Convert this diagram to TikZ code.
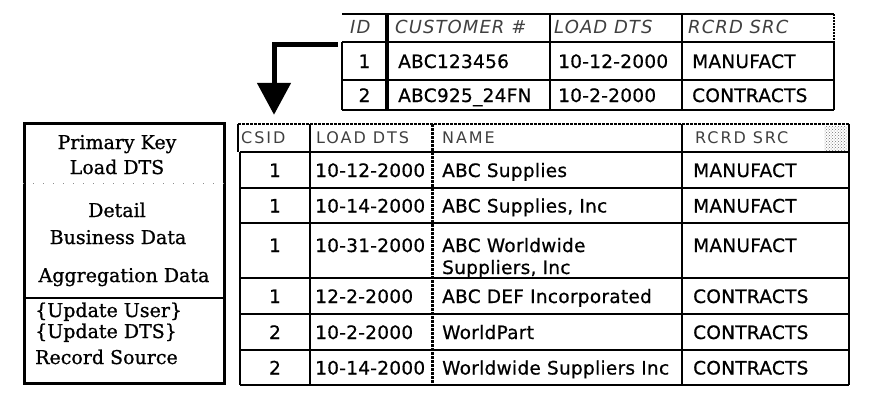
\documentclass[tikz,border=0pt]{standalone}
\usepackage{fontspec}
\usetikzlibrary{arrows.meta,patterns}
\newfontfamily\tblfont{DejaVu Sans}[LetterSpace=1.5,FakeBold=0.6]
\newfontfamily\hdrfont{DejaVu Sans}[LetterSpace=12]
\newfontfamily\tophdrfont{DejaVu Sans}[LetterSpace=6]
\newfontfamily\serfont{DejaVu Serif}[FakeBold=0.9]
\tikzset{
  grid/.style={line width=1.8pt},
  thickbar/.style={line width=4.5pt},
  dotline/.style={line width=2.2pt, dash pattern=on 3pt off 1pt},
  bodytxt/.style={font=\tblfont\fontsize{18.5}{22}\selectfont, inner sep=0pt, text height=14pt, text depth=4pt},
  hdrtxt/.style={font=\hdrfont\fontsize{16}{19}\selectfont, text=black!75, inner sep=0pt, text height=12pt, text depth=3pt, anchor=west},
  tophdr/.style={font=\tophdrfont\itshape\fontsize{18}{21}\selectfont, text=black!75, inner sep=0pt, text height=13pt, text depth=3pt, anchor=west},
  lt/.style={bodytxt, anchor=west},
  ct/.style={bodytxt, anchor=center},
  sertxt/.style={font=\serfont\fontsize{19}{22}\selectfont, inner sep=0pt, text height=14pt, text depth=4pt},
  cellbox/.style={draw=none, inner sep=0pt},
}
\begin{document}
\begin{tikzpicture}[x=1pt, y=-1pt]
\fill[white] (0,0) rectangle (872,404);
\useasboundingbox (0,0) rectangle (872,404);

% ---------------- top table ----------------
\node[cellbox, minimum width=45pt, minimum height=28pt] (idh) at (364.5,28) {};
\draw[grid] (342,14) -- (834,14);
\draw[grid] (342,42) -- (834,42);
\draw[grid] (342,80) -- (834,80);
\draw[grid] (342,110) -- (834,110);
\draw[grid] (342,42) -- (342,110);
\draw[grid] (550,14) -- (550,110);
\draw[grid] (682,14) -- (682,110);
\draw[grid] (834,42) -- (834,110);
\draw[line width=1.8pt, dash pattern=on 2pt off 1pt] (834,14) -- (834,42);
\draw[thickbar] (387,14) -- (387,110);

\node[tophdr] (th1) at (350,29) {ID};
\node[tophdr] (th2) at (395,29) {CUSTOMER \#};
\node[tophdr] (th3) at (554,29) {LOAD DTS};
\node[tophdr] (th4) at (688,29) {RCRD SRC};

\node[ct] (t11) at (364.5,63) {1};
\node[lt] (t12) at (398,63) {ABC123456};
\node[lt] (t13) at (558,63) {10-12-2000};
\node[lt] (t14) at (692,63) {MANUFACT};
\node[ct] (t21) at (364.5,97) {2};
\node[lt] (t22) at (398,97) {ABC925\_24FN};
\node[lt] (t23) at (558,97) {10-2-2000};
\node[lt] (t24) at (692,97) {CONTRACTS};

% ---------------- bottom table ----------------
\node[cellbox, minimum width=72pt, minimum height=28pt] (csidh) at (274,138) {};
\draw[line width=2.4pt, dash pattern=on 3pt off 1pt] (238,124) -- (849,124);
\draw[line width=1.2pt] (238,124) -- (238,152);
\foreach \yy in {152,188,223,278,314,350,385}{
  \draw[grid] (240,\yy) -- (849,\yy);
}
\draw[line width=2.6pt] (240,152) -- (240,385);
\draw[grid] (310,124) -- (310,385);
\draw[dotline, line width=3pt] (432,124) -- (432,385);
\draw[grid] (682,124) -- (682,385);
\draw[line width=2.2pt] (849,124) -- (849,385);
\fill[pattern=crosshatch dots, pattern color=black!55] (824,126) rectangle (847,150);

\node[hdrtxt] (bh1) at (241,139) {CSID};
\node[hdrtxt] (bh2) at (316,139) {LOAD DTS};
\node[hdrtxt] (bh3) at (442,139) {NAME};
\node[hdrtxt] (bh4) at (695,139) {RCRD SRC};

\node[ct] (b11) at (275,172) {1};
\node[lt] (b12) at (315,172) {10-12-2000};
\node[lt] (b13) at (442,172) {ABC Supplies};
\node[lt] (b14) at (693,172) {MANUFACT};

\node[ct] (b21) at (275,207.5) {1};
\node[lt] (b22) at (315,207.5) {10-14-2000};
\node[lt] (b23) at (442,207.5) {ABC Supplies, Inc};
\node[lt] (b24) at (693,207.5) {MANUFACT};

\node[ct] (b31) at (275,247) {1};
\node[lt] (b32) at (315,247) {10-31-2000};
\node[lt] (b33) at (442,247) {ABC Worldwide};
\node[lt] (b33b) at (442,269) {Suppliers, Inc};
\node[lt] (b34) at (693,247) {MANUFACT};

\node[ct] (b41) at (275,298) {1};
\node[lt] (b42) at (315,298) {12-2-2000};
\node[lt] (b43) at (442,298) {ABC DEF Incorporated};
\node[lt] (b44) at (693,298) {CONTRACTS};

\node[ct] (b51) at (275,334) {2};
\node[lt] (b52) at (315,334) {10-2-2000};
\node[lt] (b53) at (442,334) {WorldPart};
\node[lt] (b54) at (693,334) {CONTRACTS};

\node[ct] (b61) at (275,369.5) {2};
\node[lt] (b62) at (315,369.5) {10-14-2000};
\node[lt] (b63) at (442,369.5) {Worldwide Suppliers Inc};
\node[lt] (b64) at (693,369.5) {CONTRACTS};

% ---------------- left legend box ----------------
\node[draw, line width=3pt, minimum width=200pt, minimum height=260pt, inner sep=0pt, anchor=north west] (legend) at (23,122) {};
\draw[line width=1.5pt] (legend.west |- 0,298) -- (legend.east |- 0,298);
\draw[black!45, line width=1pt, dash pattern=on 1pt off 9pt] (legend.west |- 0,183) -- (legend.east |- 0,183);

\node[sertxt] (l1) at (117,144) {Primary Key};
\node[sertxt] (l2) at (117,169) {Load DTS};
\node[sertxt] (l3) at (117,212) {Detail};
\node[sertxt] (l4) at (118,239) {Business Data};
\node[sertxt] (l5) at (124,277) {Aggregation Data};
\node[sertxt, anchor=west] (l6) at (35,312) {\{Update User\}};
\node[sertxt, anchor=west] (l7) at (35,333) {\{Update DTS\}};
\node[sertxt, anchor=west] (l8) at (35,359) {Record Source};

% ---------------- arrow ----------------
\draw[line width=5pt, -{Triangle[length=32pt,width=33pt]}, shorten >=9pt]
  ([yshift=-2.5pt,xshift=-4pt]idh.south west) -| (csidh.north);
\end{tikzpicture}
\end{document}
